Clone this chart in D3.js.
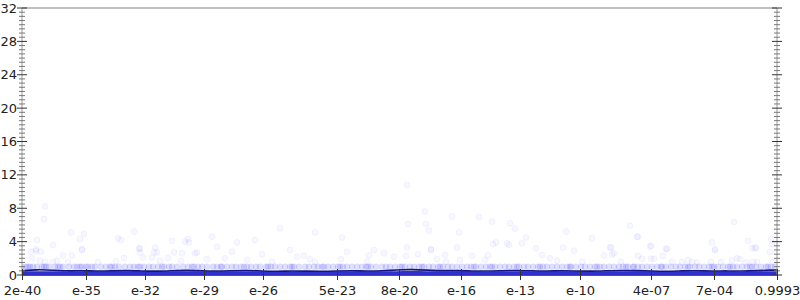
<!DOCTYPE html>
<html>
<head>
<meta charset="utf-8">
<script src="https://cdn.jsdelivr.net/npm/d3@7"></script>
<style>
body { margin:0; background:#fff; }
text { font-family: "DejaVu Sans", sans-serif; }
</style>
</head>
<body>
<div id="chart"></div>
<script>
// x positions are ranks along the sorted axis (0..755)
const tickPos = [0, 64, 123, 182, 241, 315, 377, 439, 498, 558, 629, 692, 755]
const tickLabels = ["2e-40", "e-35", "e-32", "e-29", "e-26", "5e-23", "8e-20", "e-16", "e-13", "e-10", "4e-07", "7e-04", "0.9993"]
const yTicks = [0, 4, 8, 12, 16, 20, 24, 28, 32]

// scattered points [rank, value]
const points = [
  [23,8.2],[22,6.7],[49,5.1],[62,4.95],[58,4.3],[15,4.2],[31,3.6],[96,4.4],[99,4.2],[112,5.2],
  [150,4.1],[166,4.3],[167,3.9],[163,4.0],[60,3.0],[14,2.9],[9,2.8],[19,2.8],[117,3.15],[135,2.7],
  [10,2.0],[18,1.7],[23,1.6],[41,2.35],[50,2.35],[35,1.7],[31,1.55],[46,1.55],[76,1.55],[94,1.65],
  [102,2.05],[118,2.7],[121,2.1],[132,2.7],[130,2.1],[138,1.7],[146,2.05],[152,2.7],[159,1.7],[175,2.7],
  [173,2.6],[160,2.6],[14,3.1],[60,3.1],[118,3.2],[133,3.3],
  [195,3.4],[210,2.8],[233,4.2],[258,5.6],[240,2.5],[203,2.0],[268,3.0],[225,1.8],[250,1.6],[185,1.9],
  [275,2.2],[215,3.9],[190,4.6],
  [293,5.1],[320,4.5],[325,2.8],[352,3.0],[282,2.3],[288,1.9],[293,1.55],[319,1.9],[347,2.35],[345,1.6],
  [362,2.6],[372,2.2],[384,2.3],[396,2.5],[409,3.0],[423,2.4],[435,3.3],[385,10.8],[403,7.6],[430,7.0],
  [457,6.95],[470,6.4],[386,6.1],[404,6.1],[407,5.3],[437,5.1],[488,6.2],[493,5.55],[504,4.5],[544,5.2],
  [385,3.3],[409,3.1],[471,3.7],[485,3.8],[487,3.6],[500,3.8],[514,3.2],[541,3.3],[450,2.3],[466,2.35],
  [474,3.9],[415,1.9],[424,1.6],[438,1.8],[463,1.8],[520,2.4],[535,1.7],[552,2.9],[560,1.6],[528,2.0],
  [570,4.4],[608,5.9],[615,4.6],[629,3.5],[645,3.1],[588,3.3],[592,2.6],[582,2.35],[590,2.45],[616,2.3],
  [641,2.3],[629,1.95],[632,1.95],[620,1.95],[650,1.55],[660,1.55],[670,1.55],[675,1.5],[712,6.35],[690,3.9],
  [693,2.95],[726,4.1],[730,3.2],[734,3.3],[748,2.75],[750,3.7],[715,2.0],[718,1.9],[710,1.75],[699,1.55],
  [689,1.55],[724,1.5],[731,1.55],[735,1.55],[751,1.55],[666,1.8],[599,1.6],[749,4.35],[733,3.2],[616,4.55],
  [589,3.3],[628,3.4],[644,3.15],[693,3.1]
]

// ranks of the crowded band of points at value 1
const bandX = [0,4,8,11,15,20,24,27,33,38,41,47,52,55,60,66,70,73,79,84,88,93,97,103,108,112,116,122,127,131,
  136,142,147,150,155,161,166,170,176,180,185,191,195,199,205,210,214,219,225,229,234,238,244,249,253,258,263,268,
  272,277,283,287,292,296,302,306,311,316,321,325,330,335,340,344,349,354,360,364,368,373,378,383,388,392,397,402,
  407,411,416,421,426,430,435,440,445,449,454,459,464,468,473,478,483,487,492,497,502,506,511,516,521,525,530,535,
  540,545,549,554,559,563,568,573,578,582,587,592,597,601,606,611,616,620,625,630,635,639,644,649,654,658,663,668,
  673,677,682,687,692,696,701,706,711,715,720,725,730,734,739,744,749,753]
// extra crowding inside the band
const bandClumps = [6,22,36,58,64,90,118,140,172,200,222,246,270,300,318,346,380,400,418,452,470,495,518,548,575,
  604,612,640,666,690,708,728,746]

// running mean and the top of the dense cloud near zero
const stationX = [0,15,30,45,60,75,90,105,120,135,150,165,180,195,210,225,240,255,270,285,300,315,330,345,360,375,
  390,405,420,435,450,465,480,495,510,525,540,555,570,585,600,615,630,645,660,675,690,705,720,735,750,755]
const meanVals = [0.50,0.66,0.58,0.48,0.52,0.46,0.50,0.54,0.48,0.45,0.52,0.58,0.50,0.47,0.52,0.56,0.48,0.44,0.50,0.46,
  0.43,0.48,0.52,0.46,0.50,0.62,0.66,0.58,0.50,0.54,0.48,0.46,0.52,0.56,0.50,0.47,0.52,0.48,0.45,0.51,
  0.56,0.52,0.48,0.44,0.50,0.53,0.47,0.50,0.46,0.52,0.60,0.58]
const cloudTop = [0.44,0.46,0.45,0.43,0.44,0.45,0.44,0.46,0.44,0.43,0.45,0.46,0.44,0.43,0.45,0.44,0.44,0.43,0.45,0.44,
  0.43,0.44,0.45,0.44,0.44,0.46,0.47,0.45,0.44,0.45,0.44,0.43,0.44,0.45,0.44,0.43,0.45,0.44,0.43,0.44,
  0.45,0.45,0.44,0.43,0.44,0.45,0.44,0.44,0.43,0.44,0.46,0.45]

const margin = {top:8, right:23, bottom:25, left:22}
const width = 800 - margin.left - margin.right
const height = 300 - margin.top - margin.bottom

const svg = d3.select("#chart").append("svg")
    .attr("width", 800)
    .attr("height", 300)
    .append("g")
    .attr("transform", "translate(" + margin.left + "," + margin.top + ")");

const x = d3.scaleLinear().domain([0, 755]).range([0, width])
const y = d3.scaleLinear().domain([0, 32]).range([height, 0])

svg.append("clipPath").attr("id", "clip")
    .append("rect").attr("width", width).attr("height", height)

const plot = svg.append("g").attr("clip-path", "url(#clip)")

// cloud of points sitting on zero
plot.append("path")
    .datum(stationX.map((d, i) => [d, cloudTop[i]]))
    .attr("d", d3.area().x(d => x(d[0])).y0(y(0)).y1(d => y(d[1])).curve(d3.curveBasis))
    .style("fill", "#3030cc")

plot.selectAll(".band")
    .data(bandX.concat(bandClumps))
    .enter().append("circle")
    .attr("class", "band")
    .attr("cx", d => x(d))
    .attr("cy", y(1))
    .attr("r", 3)
    .style("fill", "#2020ff")
    .style("fill-opacity", 0.14)
    .style("stroke", "#2020ff")
    .style("stroke-opacity", 0.06)

plot.selectAll(".pt")
    .data(points)
    .enter().append("circle")
    .attr("class", "pt")
    .attr("cx", d => x(d[0]))
    .attr("cy", d => y(d[1]))
    .attr("r", 3)
    .style("fill", "#0000ff")
    .style("fill-opacity", 0.03)
    .style("stroke", "#0000ff")
    .style("stroke-opacity", 0.045)

plot.append("path")
    .datum(stationX.map((d, i) => [d, meanVals[i]]))
    .attr("d", d3.line().x(d => x(d[0])).y(d => y(d[1])).curve(d3.curveBasis))
    .style("fill", "none")
    .style("stroke", "#141480")
    .style("stroke-width", 1.6)

// frame
svg.append("line").attr("x1", 0).attr("x2", width).attr("y1", 0).attr("y2", 0)
    .style("stroke", "#aaa").style("stroke-width", 1.5)

const minor = d3.range(0, 32.01, 0.5).filter(v => v % 4 !== 0)

function yAxis(g, side) {
    g.append("line").attr("y1", 0).attr("y2", height).style("stroke", "#999")
    g.selectAll(".mn").data(minor).enter().append("line")
        .attr("x1", -3).attr("x2", 3)
        .attr("y1", d => y(d)).attr("y2", d => y(d))
        .style("stroke", "#777")
    g.selectAll(".mj").data(yTicks).enter().append("line")
        .attr("x1", -5).attr("x2", 5)
        .attr("y1", d => y(d)).attr("y2", d => y(d))
        .style("stroke", "#333")
    if (side === "left") {
        g.selectAll(".lb").data(yTicks).enter().append("text")
            .attr("x", -5).attr("y", d => y(d)).attr("dy", "0.35em")
            .attr("text-anchor", "end")
            .style("font-size", "13px").style("fill", "#222")
            .text(d => d)
    }
}

svg.append("g").call(yAxis, "left")
svg.append("g").attr("transform", "translate(" + width + ",0)").call(yAxis, "right")

const xAxis = d3.axisBottom(x)
    .tickValues(tickPos)
    .tickFormat((d, i) => tickLabels[i])
    .tickSize(5)
    .tickPadding(6)

const xg = svg.append("g")
    .attr("transform", "translate(0," + height + ")")
    .call(xAxis)
xg.select(".domain").style("stroke", "#555")
xg.selectAll(".tick line").attr("y1", -6).style("stroke", "#333")
xg.selectAll(".tick text").style("font-size", "13px").style("fill", "#222")
    .style("font-family", "'DejaVu Sans', sans-serif")
</script>
</body>
</html>
